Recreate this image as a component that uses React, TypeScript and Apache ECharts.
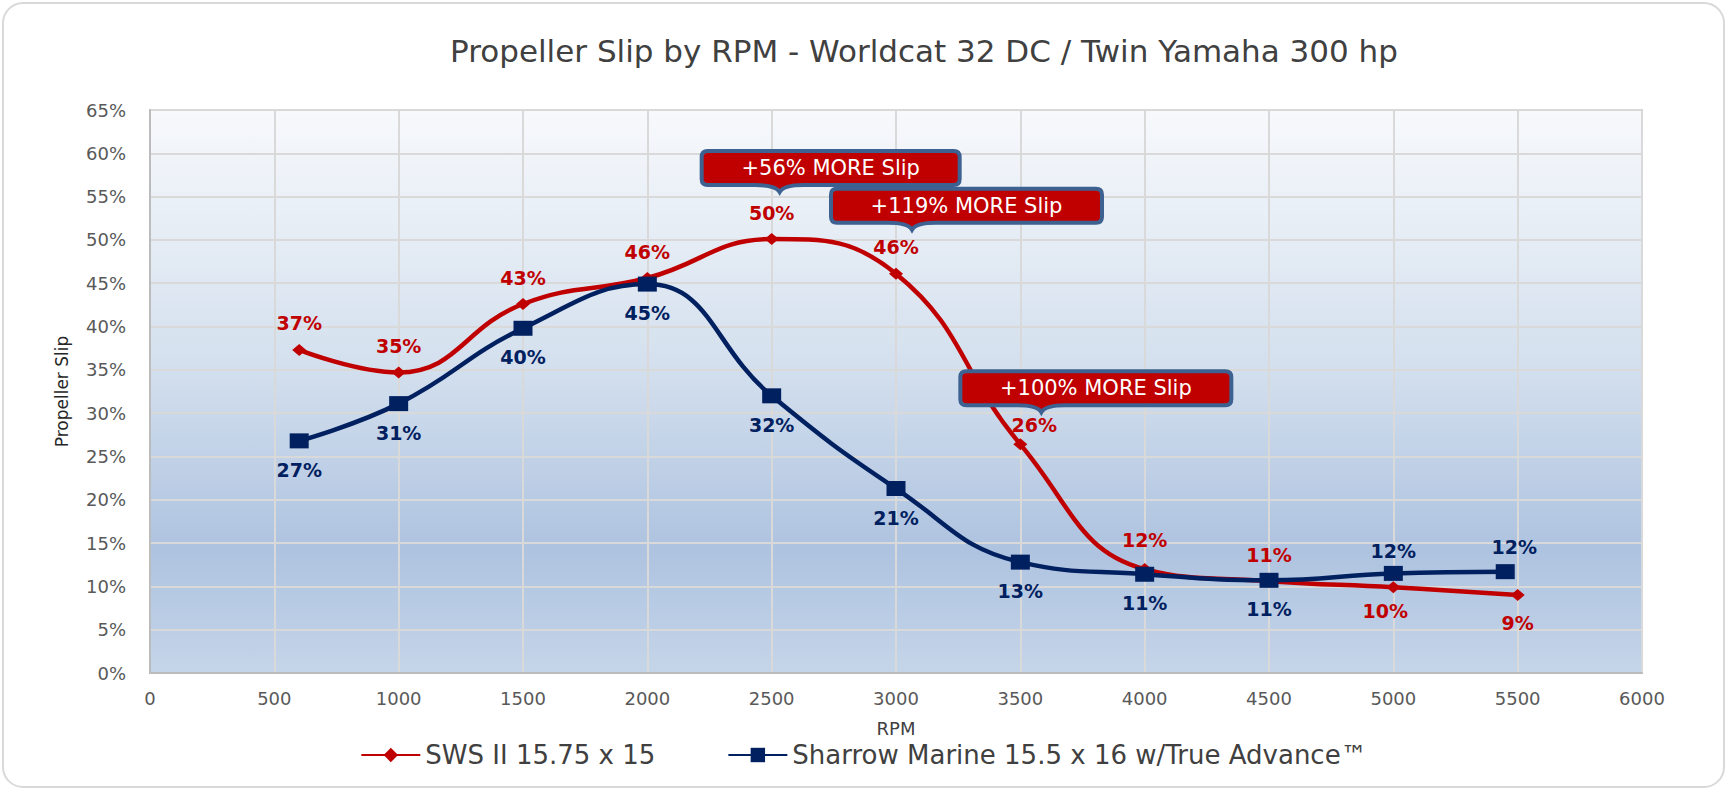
import React, { useEffect, useRef } from 'react';
import * as echarts from 'echarts';

// ---- data ----
const rpmSws = [600, 1000, 1500, 2000, 2500, 3000, 3500, 4000, 4500, 5000, 5500];
const slipSws = [37.3, 34.7, 42.6, 45.6, 50.1, 46.1, 26.4, 12.0, 10.6, 9.9, 9.0];
const rpmSharrow = [600, 1000, 1500, 2000, 2500, 3000, 3500, 4000, 4500, 5000, 5450];
const slipSharrow = [26.8, 31.1, 39.8, 44.9, 32.0, 21.3, 12.8, 11.4, 10.7, 11.5, 11.7];
const seriesNames = ['SWS II 15.75 x 15', 'Sharrow Marine 15.5 x 16 w/True Advance\u2122'];
const calloutTexts = ['+56% MORE Slip', '+119% MORE Slip', '+100% MORE Slip'];
const calloutPointIndex = [4, 5, 6];
const chartTitle = 'Propeller Slip by RPM - Worldcat 32 DC / Twin Yamaha 300 hp';
const xName = 'RPM';
const yName = 'Propeller Slip';

// ---- styling ----
const FONT = 'DejaVu Sans';
const RED = '#c00000';
const NAVY = '#002060';
const CALLOUT_BORDER = '#3d6190';

const swsLabelTweaks: Record<number, any> = {
  6: { distance: 4, offset: [14, 0] },
  7: { distance: 14 },
  9: { position: 'bottom', distance: 8, offset: [-8, 0] },
  10: { position: 'bottom', distance: 12 },
};
const sharrowLabelTweaks: Record<number, any> = {
  9: { position: 'top', distance: 5 },
  10: { position: 'top', distance: 8, offset: [9, 0] },
};

// box width, pointer x inside box, box top-left offset from the anchored data point (px)
const calloutBoxes = [
  { w: 258, tip: 78, ox: -70, oy: -88 },
  { w: 271, tip: 81, ox: -65, oy: -85 },
  { w: 271, tip: 81, ox: -60, oy: -73 },
];
const BOX_H = 34;
const TIP_D = 7;

echarts.graphic.registerShape(
  'callout',
  echarts.graphic.extendShape({
    shape: { w: 100, h: 34, tip: 40, d: 7, r: 6 },
    buildPath(ctx: any, s: any) {
      const { w, h, tip, d, r } = s;
      ctx.moveTo(r, 0);
      ctx.lineTo(w - r, 0);
      ctx.quadraticCurveTo(w, 0, w, r);
      ctx.lineTo(w, h - r);
      ctx.quadraticCurveTo(w, h, w - r, h);
      ctx.lineTo(tip + 24, h);
      ctx.quadraticCurveTo(tip + 4, h, tip, h + d);
      ctx.quadraticCurveTo(tip - 4, h, tip - 24, h);
      ctx.lineTo(r, h);
      ctx.quadraticCurveTo(0, h, 0, h - r);
      ctx.lineTo(0, r);
      ctx.quadraticCurveTo(0, 0, r, 0);
      ctx.closePath();
    },
  } as any)
);

export default function App() {
  const ref = useRef<HTMLDivElement>(null);

  useEffect(() => {
    if (!ref.current) return;
    const chart = echarts.init(ref.current, undefined, { renderer: 'svg' });

    const labelBase = {
      show: true,
      fontFamily: FONT,
      fontWeight: 'bold' as const,
      fontSize: 19,
      formatter: (p: any) => Math.round(p.value[1]) + '%',
    };

    const swsData = rpmSws.map((x, i) => {
      const item: any = { value: [x, slipSws[i]] };
      if (swsLabelTweaks[i]) item.label = swsLabelTweaks[i];
      return item;
    });
    const sharrowData = rpmSharrow.map((x, i) => {
      const item: any = { value: [x, slipSharrow[i]] };
      if (sharrowLabelTweaks[i]) item.label = sharrowLabelTweaks[i];
      return item;
    });

    const frame = {
      type: 'rect',
      id: 'frame',
      z: -10,
      silent: true,
      shape: { x: 3, y: 3, width: 1721, height: 784, r: 20 },
      style: { fill: '#ffffff', stroke: '#d9d9d9', lineWidth: 2 },
    };

    const option: any = {
      animation: false,
      graphic: [frame],
      title: {
        text: chartTitle,
        left: 919,
        textAlign: 'center',
        top: 30,
        textStyle: { fontFamily: FONT, fontSize: 31, fontWeight: 'normal', color: '#404040' },
      },
      legend: {
        data: seriesNames,
        left: 'center',
        top: 737,
        itemWidth: 59,
        itemHeight: 18,
        itemGap: 72,
        textStyle: { fontFamily: FONT, fontSize: 26, color: '#404040' },
      },
      grid: {
        left: 150,
        right: 85,
        top: 110,
        bottom: 116,
        show: true,
        borderColor: '#cfcfcf',
        borderWidth: 2,
        backgroundColor: new echarts.graphic.LinearGradient(0, 0, 0, 1, [
          { offset: 0, color: '#f7f9fc' },
          { offset: 0.45, color: '#d4e0ee' },
          { offset: 0.78, color: '#aec3e0' },
          { offset: 1, color: '#c5d5e9' },
        ]),
      },
      xAxis: {
        type: 'value',
        min: 0,
        max: 6000,
        interval: 500,
        name: xName,
        nameLocation: 'middle',
        nameGap: 46,
        nameTextStyle: { fontFamily: FONT, fontSize: 18, color: '#404040' },
        axisLine: { show: true, lineStyle: { color: '#bcbcbc', width: 2 } },
        axisTick: { show: false },
        axisLabel: {
          fontFamily: FONT,
          fontSize: 18,
          color: '#595959',
          margin: 16,
          formatter: (v: number) => String(v),
        },
        splitLine: { show: true, lineStyle: { color: '#d9d9d9', width: 2 } },
      },
      yAxis: {
        type: 'value',
        min: 0,
        max: 65,
        interval: 5,
        name: yName,
        nameLocation: 'middle',
        nameGap: 80,
        nameTextStyle: { fontFamily: FONT, fontSize: 17, color: '#262626' },
        axisLine: { show: true, lineStyle: { color: '#bcbcbc', width: 2 } },
        axisTick: { show: false },
        axisLabel: { fontFamily: FONT, fontSize: 18, color: '#595959', margin: 24, formatter: '{value}%' },
        splitLine: { show: true, lineStyle: { color: '#d9d9d9', width: 2 } },
      },
      series: [
        {
          name: seriesNames[0],
          type: 'line',
          smooth: 0.45,
          data: swsData,
          symbol: 'diamond',
          symbolSize: [14, 12],
          lineStyle: { color: RED, width: 4.5 },
          itemStyle: { color: RED },
          label: { ...labelBase, position: 'top', distance: 11, color: RED },
        },
        {
          name: seriesNames[1],
          type: 'line',
          smooth: 0.45,
          data: sharrowData,
          symbol: 'rect',
          symbolSize: [19, 15],
          lineStyle: { color: NAVY, width: 4.5 },
          itemStyle: { color: NAVY },
          label: { ...labelBase, position: 'bottom', distance: 12, color: NAVY },
        },
      ],
    };

    chart.setOption(option);

    // callouts anchored to the SWS data points
    const callouts = calloutTexts.map((t, k) => {
      const idx = calloutPointIndex[k];
      const b = calloutBoxes[k];
      const p = chart.convertToPixel({ gridIndex: 0 }, [rpmSws[idx], slipSws[idx]]) as number[];
      return {
        type: 'group',
        id: 'callout' + k,
        x: p[0] + b.ox,
        y: p[1] + b.oy,
        silent: true,
        children: [
          {
            type: 'callout',
            z: 100,
            shape: { w: b.w, h: BOX_H, tip: b.tip, d: TIP_D, r: 6 },
            style: { fill: RED, stroke: CALLOUT_BORDER, lineWidth: 4 },
          },
          {
            type: 'text',
            z: 101,
            x: b.w / 2,
            y: BOX_H / 2,
            style: {
              text: t,
              fill: '#ffffff',
              fontFamily: FONT,
              fontSize: 21,
              align: 'center',
              verticalAlign: 'middle',
            },
          },
        ],
      };
    });
    chart.setOption({ graphic: [frame, ...callouts] });

    return () => chart.dispose();
  }, []);

  return (
    <div
      ref={ref}
      style={{ position: 'absolute', left: 0, top: 0, width: 1727, height: 789 }}
    />
  );
}
